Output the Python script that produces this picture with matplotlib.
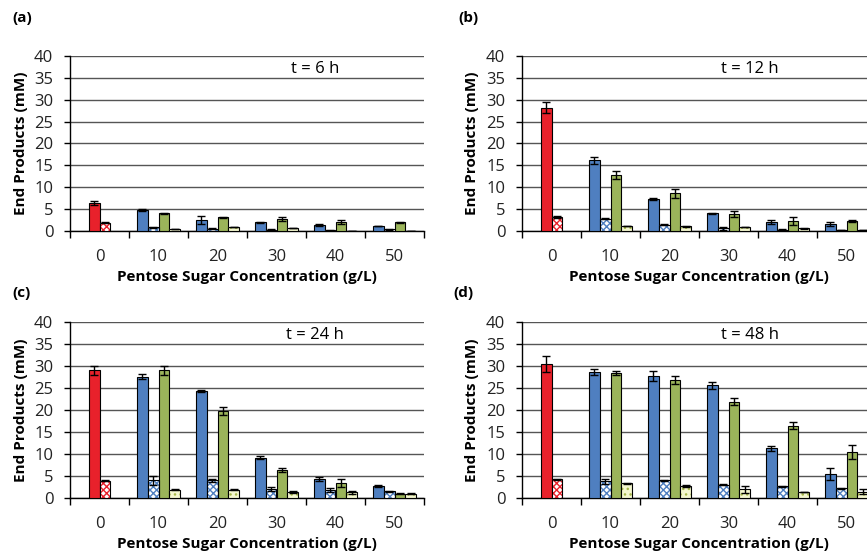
import matplotlib
matplotlib.use("Agg")
import matplotlib.pyplot as plt
import numpy as np

plt.rcParams["font.family"] = ["Open Sans", "DejaVu Sans"]

concentrations = ["0", "10", "20", "30", "40", "50"]
panel_tags = ["(a)", "(b)", "(c)", "(d)"]
panel_times = ["t = 6 h", "t = 12 h", "t = 24 h", "t = 48 h"]

# control (0 g/L) bars: solid red and hatched red
ctrl_solid = [6.4, 28.2, 29.0, 30.5]
ctrl_solid_err = [0.5, 1.2, 1.1, 1.8]
ctrl_hatch = [1.9, 3.2, 3.9, 4.3]
ctrl_hatch_err = [0.15, 0.15, 0.1, 0.1]

# pentose bars for 10..50 g/L, one list per panel
blue_solid = [
    [4.8, 2.6, 2.0, 1.4, 1.15],
    [16.2, 7.3, 4.0, 2.0, 1.6],
    [27.6, 24.3, 9.2, 4.3, 2.7],
    [28.7, 27.7, 25.6, 11.3, 5.5],
]
blue_solid_err = [
    [0.2, 0.9, 0.1, 0.2, 0.1],
    [0.8, 0.2, 0.2, 0.5, 0.4],
    [0.6, 0.2, 0.3, 0.5, 0.3],
    [0.7, 1.1, 0.8, 0.6, 1.4],
]
blue_hatch = [
    [0.85, 0.5, 0.3, 0.15, 0.4],
    [2.8, 1.45, 0.6, 0.3, 0.2],
    [4.0, 4.0, 2.0, 1.8, 1.5],
    [3.8, 4.0, 3.0, 2.7, 2.2],
]
blue_hatch_err = [
    [0.1, 0.1, 0.05, 0.05, 0.1],
    [0.1, 0.1, 0.4, 0.05, 0.05],
    [1.1, 0.4, 0.4, 0.4, 0.1],
    [0.6, 0.2, 0.1, 0.1, 0.1],
]
green_solid = [
    [4.0, 3.1, 2.7, 2.0, 2.0],
    [12.8, 8.6, 3.9, 2.3, 2.2],
    [29.0, 19.8, 6.3, 3.5, 1.0],
    [28.4, 26.8, 21.9, 16.4, 10.4],
]
green_solid_err = [
    [0.2, 0.2, 0.5, 0.5, 0.1],
    [1.0, 1.0, 0.6, 1.0, 0.2],
    [1.0, 0.9, 0.5, 0.9, 0.1],
    [0.4, 0.9, 0.8, 0.8, 1.6],
]
yellow_hatch = [
    [0.4, 0.9, 0.7, 0.05, 0.05],
    [1.15, 1.05, 0.9, 0.6, 0.2],
    [1.9, 1.9, 1.4, 1.3, 1.0],
    [3.3, 2.7, 2.0, 1.4, 1.4],
]
yellow_hatch_err = [
    [0.05, 0.05, 0.05, 0.02, 0.02],
    [0.05, 0.05, 0.05, 0.05, 0.05],
    [0.1, 0.1, 0.3, 0.3, 0.05],
    [0.2, 0.3, 0.8, 0.05, 0.6],
]

RED = "#e8212b"
BLUE = "#4f7fc0"
GREEN = "#9bb45a"
YELLOW_FACE = "#f4f7cf"
YELLOW_HATCH = "#a7b84a"

W, H = 867, 554
fig = plt.figure(figsize=(W / 100, H / 100), dpi=100)

# axes boxes in pixels: left, top, right, bottom (right panels run off the page)
boxes = [(70, 56, 424, 231), (522, 56, 876, 231), (70, 322, 424, 498), (522, 322, 876, 498)]
tag_pos = [(12, 18), (458, 18), (12, 293), (453, 293)]
time_x = [315, 750, 315, 750]

bw = 0.183


def hatched_bar(ax, x, h, err, hatch_col, face, hatch):
    ax.bar(x, h, bw, color=face, edgecolor=hatch_col, hatch=hatch, linewidth=0, zorder=3)
    ax.bar(x, h, bw, fill=False, edgecolor="black", linewidth=0.8, zorder=4)
    ax.errorbar(x, h, yerr=err, fmt="none", ecolor="black", elinewidth=1, capsize=3, capthick=1, zorder=5)


def solid_bar(ax, x, h, err, col):
    ax.bar(x, h, bw, color=col, edgecolor="black", linewidth=0.8, zorder=3)
    ax.errorbar(x, h, yerr=err, fmt="none", ecolor="black", elinewidth=1, capsize=3, capthick=1, zorder=5)


for p in range(4):
    l, t, r, b = boxes[p]
    ax = fig.add_axes([l / W, 1 - b / H, (r - l) / W, (b - t) / H])
    ax.set_xlim(0, 6)
    ax.set_ylim(0, 40)

    # control group at 0 g/L
    solid_bar(ax, 0.5 - bw / 2, ctrl_solid[p], ctrl_solid_err[p], RED)
    hatched_bar(ax, 0.5 + bw / 2, ctrl_hatch[p], ctrl_hatch_err[p], RED, "white", "xxxxx")

    xs = np.arange(1, 6) + 0.5
    for i, xc in enumerate(xs):
        solid_bar(ax, xc - 1.5 * bw, blue_solid[p][i], blue_solid_err[p][i], BLUE)
        hatched_bar(ax, xc - 0.5 * bw, blue_hatch[p][i], blue_hatch_err[p][i], BLUE, "white", "xxxxx")
        solid_bar(ax, xc + 0.5 * bw, green_solid[p][i], green_solid_err[p][i], GREEN)
        hatched_bar(ax, xc + 1.5 * bw, yellow_hatch[p][i], yellow_hatch_err[p][i], YELLOW_HATCH, YELLOW_FACE, "...")

    ax.set_yticks(np.arange(0, 41, 5))
    ax.yaxis.grid(True, color="#555555", linewidth=1.0, zorder=0)
    ax.set_axisbelow(True)
    ax.set_xticks(np.arange(0, 7))
    ax.set_xticklabels([])
    ax.set_xticks(np.arange(6) + 0.5, minor=True)
    ax.set_xticklabels(concentrations, minor=True)
    ax.tick_params(axis="x", which="major", direction="out", length=5, width=1, color="black")
    ax.tick_params(axis="x", which="minor", length=0, pad=13, labelsize=12, labelcolor="#222222")
    ax.tick_params(axis="y", direction="out", length=4, width=1, labelsize=12, pad=8, labelcolor="#222222")
    for s in ["top", "right"]:
        ax.spines[s].set_visible(False)
    ax.spines["left"].set_linewidth(1)
    ax.spines["bottom"].set_linewidth(1)

    ax.set_ylabel("End Products (mM)", fontsize=11, fontweight="bold", va="center")
    ax.yaxis.set_label_coords((21 if p % 2 == 0 else 472) - l, 0.5)
    ax.yaxis.set_label_coords(((21 if p % 2 == 0 else 472) - l) / (r - l), 0.5)
    ax.set_xlabel("Pentose Sugar Concentration (g/L)", fontsize=11, fontweight="bold", va="center")
    ax.xaxis.set_label_coords(((l + 354 / 2) - l) / (r - l), -46 / (b - t))

    fig.text(time_x[p] / W, 1 - (t + 13) / H, panel_times[p], ha="center", va="center", fontsize=12)
    fig.text(tag_pos[p][0] / W, 1 - tag_pos[p][1] / H, panel_tags[p], ha="left", va="center",
             fontsize=11, fontweight="bold")

fig.savefig("out.png", dpi=100)
